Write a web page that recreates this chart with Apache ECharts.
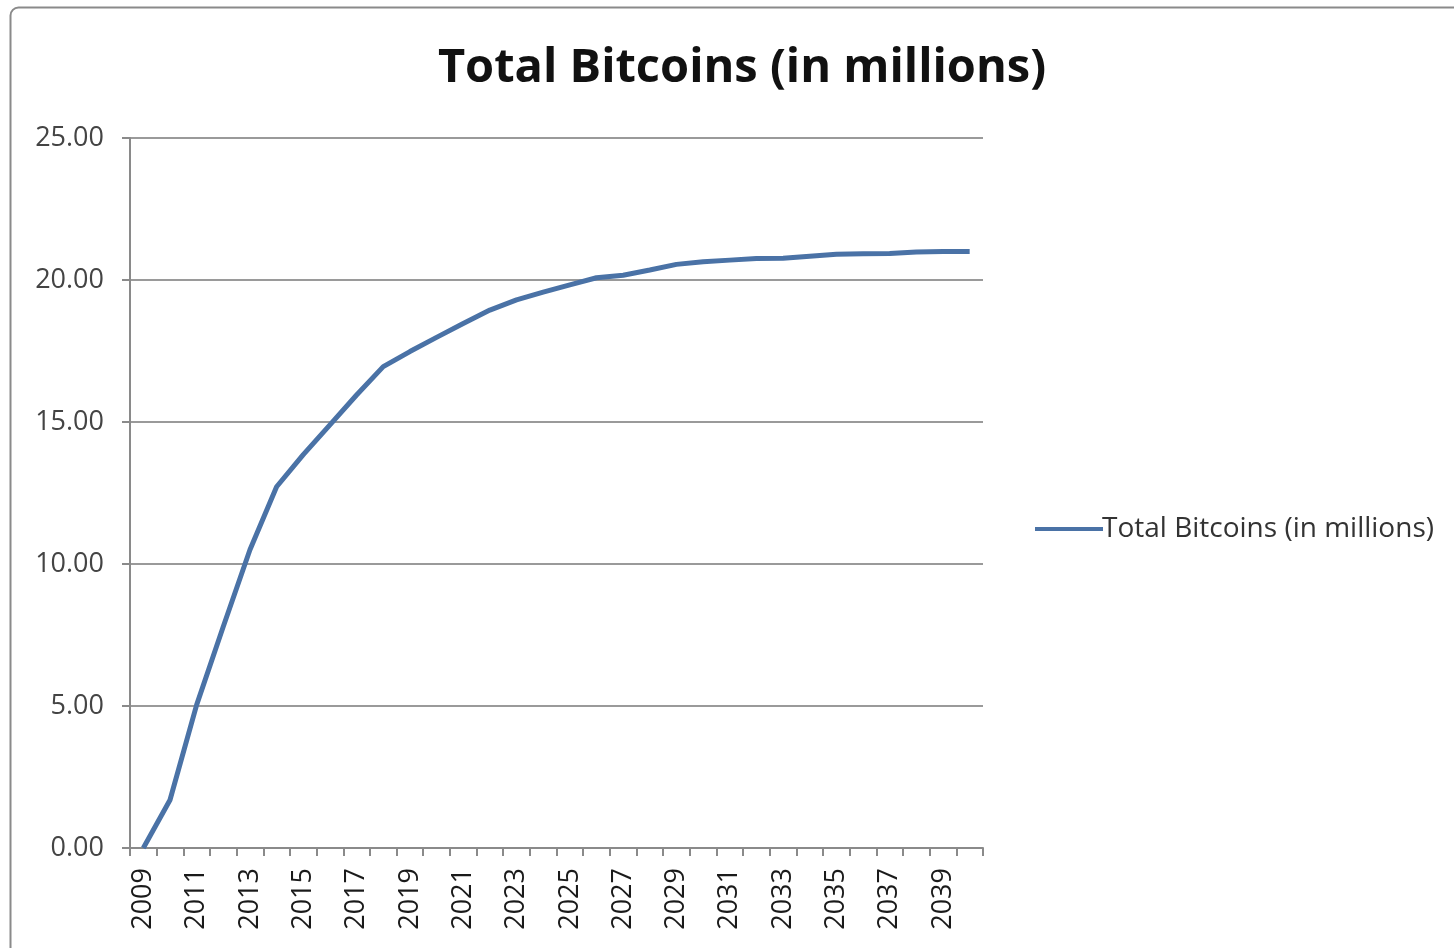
<!DOCTYPE html>
<html>
<head>
<meta charset="utf-8">
<script src="https://cdn.jsdelivr.net/npm/echarts@6/dist/echarts.min.js"></script>
<style>
html,body{margin:0;padding:0;background:#fff;}
#c{width:1454px;height:948px;}
</style>
</head>
<body>
<div id="c"></div>
<script>
const years = ['2009','2010','2011','2012','2013','2014','2015','2016','2017','2018','2019','2020','2021','2022','2023','2024','2025','2026','2027','2028','2029','2030','2031','2032','2033','2034','2035','2036','2037','2038','2039','2040'];
const totalBitcoins = [0, 1.69, 5.04, 7.8, 10.5, 12.72, 13.85, 14.9, 15.95, 16.95, 17.48, 17.98, 18.47, 18.94, 19.3, 19.57, 19.83, 20.08, 20.17, 20.35, 20.55, 20.64, 20.7, 20.76, 20.77, 20.84, 20.91, 20.92, 20.93, 20.99, 21.0, 21.0];
const yTicks = {min: 0, max: 25, interval: 5};

const chart = echarts.init(document.getElementById('c'));
const font = 'Open Sans, Noto Sans, sans-serif';
chart.setOption({
  animation: false,
  title: {
    text: 'Total Bitcoins (in millions)',
    left: 737, top: 40, textAlign: 'center',
    textStyle: {fontFamily: font, fontWeight: 'bold', fontSize: 47, color: '#111'}
  },
  graphic: [{
    type: 'rect', left: 8, top: 5, silent: true,
    shape: {width: 1470, height: 980, r: 8},
    style: {fill: 'none', stroke: '#8a8a8a', lineWidth: 2}
  }],
  legend: {
    left: 1030, top: 510, orient: 'vertical',
    itemWidth: 68, itemHeight: 4, itemGap: 0,
    icon: 'rect',
    textStyle: {fontFamily: font, fontSize: 28, color: '#333', padding: [0,0,0,-6]},
    data: [{name: 'Total Bitcoins (in millions)', icon: 'rect'}]
  },
  grid: {left: 130, right: 471, top: 138, bottom: 100, containLabel: false},
  xAxis: {
    type: 'category', data: years, boundaryGap: true,
    axisLine: {lineStyle: {color: '#8a8a8a', width: 2}},
    axisTick: {show: true, interval: 0, length: 8, lineStyle: {color: '#8a8a8a', width: 2}},
    axisLabel: {interval: 1, rotate: 90, margin: 20, fontFamily: font, fontSize: 27, color: '#1a1a1a'},
    splitLine: {show: false}
  },
  yAxis: {
    type: 'value', min: yTicks.min, max: yTicks.max, interval: yTicks.interval,
    axisLine: {show: true, lineStyle: {color: '#8a8a8a', width: 2}},
    axisTick: {show: true, length: 8, lineStyle: {color: '#8a8a8a', width: 2}},
    axisLabel: {margin: 26, fontFamily: font, fontSize: 27, color: '#444', formatter: v => v.toFixed(2)},
    splitLine: {show: true, lineStyle: {color: '#9a9a9a', width: 2}}
  },
  series: [{
    name: 'Total Bitcoins (in millions)', type: 'line', data: totalBitcoins,
    showSymbol: false, symbol: 'none',
    lineStyle: {color: '#4A72A6', width: 5},
    itemStyle: {color: '#4A72A6'}
  }]
});
</script>
</body>
</html>
